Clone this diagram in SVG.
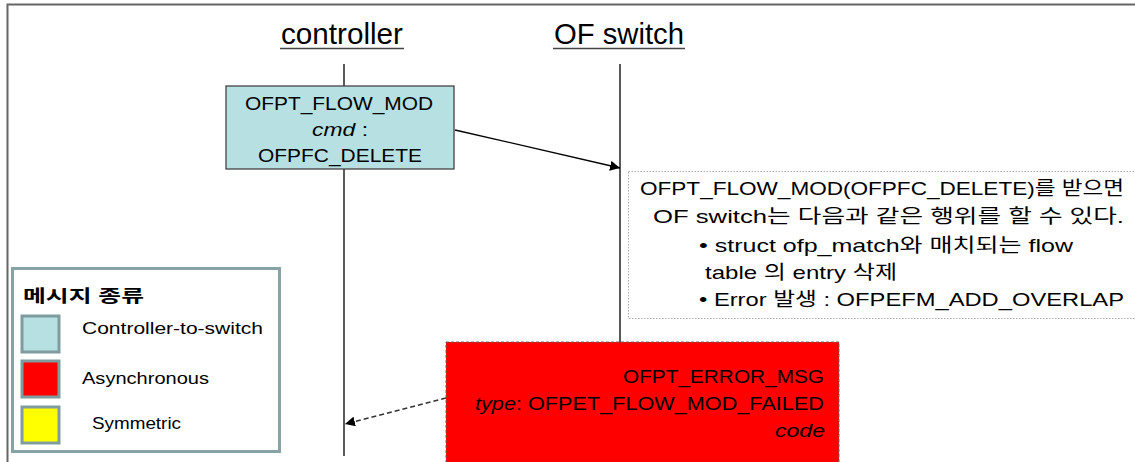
<svg xmlns="http://www.w3.org/2000/svg" width="1135" height="462" viewBox="0 0 1135 462">
  <style>
    .t { font-family: "Liberation Sans", "Noto Sans CJK KR", sans-serif; fill: #000; }
    .head { font-size: 30px; }
    .msg { font-size: 19px; }
    .note { font-size: 19px; }
    .leg { font-size: 17px; }
    .life { stroke: #000; stroke-width: 1.3; fill: none; }
    .sw { stroke: #7f9c9f; stroke-width: 3; }
  </style>
  <defs>
    <marker id="arr" viewBox="0 0 10 10" refX="10" refY="5" markerWidth="10" markerHeight="10" markerUnits="userSpaceOnUse" orient="auto">
      <path d="M0,0 L10,5 L0,10 z" fill="#000"/>
    </marker>
  </defs>

  <rect width="1135" height="462" fill="#fff"/>
  <!-- outer frame -->
  <path d="M7.5,462 V4.5 H1135" stroke="#666" stroke-width="2" fill="none"/>

  <!-- lifeline headers -->
  <g id="controller">
    <text class="t head" x="281" y="44" textLength="122" lengthAdjust="spacingAndGlyphs">controller</text>
    <line x1="280" y1="48.5" x2="404" y2="48.5" stroke="#444" stroke-width="1.5"/>
    <line class="life" x1="344" y1="64" x2="344" y2="456"/>
  </g>
  <g id="of-switch">
    <text class="t head" x="554" y="44" textLength="130" lengthAdjust="spacingAndGlyphs">OF switch</text>
    <line x1="553" y1="48.5" x2="685" y2="48.5" stroke="#444" stroke-width="1.5"/>
    <line class="life" x1="620" y1="64" x2="620" y2="342"/>
  </g>

  <!-- connectors -->
  <g id="connectors">
    <line x1="455" y1="130" x2="620" y2="168" stroke="#000" stroke-width="1.3" marker-end="url(#arr)"/>
    <line x1="446" y1="398" x2="345" y2="424" stroke="#333" stroke-width="1.5" stroke-dasharray="5,3" marker-end="url(#arr)"/>
  </g>

  <!-- flow mod message -->
  <g id="flow-mod">
    <rect x="226" y="86" width="228" height="83" fill="#b7e0e3" stroke="#444" stroke-width="1.3"/>
    <text class="t msg" x="245" y="110" textLength="188" lengthAdjust="spacingAndGlyphs">OFPT_FLOW_MOD</text>
    <text class="t msg" x="312" y="136" textLength="56" lengthAdjust="spacingAndGlyphs"><tspan font-style="italic">cmd</tspan> :</text>
    <text class="t msg" x="258" y="162" textLength="164" lengthAdjust="spacingAndGlyphs">OFPFC_DELETE</text>
  </g>

  <!-- switch behaviour note -->
  <g id="note">
    <rect x="628.5" y="171.5" width="520" height="147" fill="#fff" stroke="#aaa" stroke-width="1" stroke-dasharray="1.5,1.5"/>
    <text class="t note" x="640" y="195" textLength="484" lengthAdjust="spacingAndGlyphs">OFPT_FLOW_MOD(OFPFC_DELETE)를 받으면</text>
    <text class="t note" x="653" y="223" textLength="471" lengthAdjust="spacingAndGlyphs">OF switch는   다음과 같은 행위를 할 수 있다.</text>
    <text class="t note" x="699" y="252" textLength="374" lengthAdjust="spacingAndGlyphs">• struct ofp_match와   매치되는 flow</text>
    <text class="t note" x="705" y="279" textLength="192" lengthAdjust="spacingAndGlyphs">table 의 entry 삭제</text>
    <text class="t note" x="699" y="306" textLength="425" lengthAdjust="spacingAndGlyphs">• Error 발생 : OFPEFM_ADD_OVERLAP</text>
  </g>

  <!-- error message -->
  <g id="error-msg">
    <rect x="446" y="342" width="393" height="130" fill="#ff0000" stroke="#666" stroke-width="1" stroke-dasharray="3,2"/>
    <text class="t msg" x="623" y="383" textLength="201" lengthAdjust="spacingAndGlyphs">OFPT_ERROR_MSG</text>
    <text class="t msg" x="475" y="410" textLength="349" lengthAdjust="spacingAndGlyphs"><tspan font-style="italic">type</tspan>: OFPET_FLOW_MOD_FAILED</text>
    <text class="t msg" x="775" y="437" textLength="50" lengthAdjust="spacingAndGlyphs" font-style="italic">code</text>
  </g>

  <!-- legend -->
  <g id="legend">
    <rect x="12.5" y="268.5" width="267" height="183" fill="#fff" stroke="#88a2a5" stroke-width="3"/>
    <text class="t leg" x="23" y="302" font-weight="bold" font-size="19" textLength="121" lengthAdjust="spacingAndGlyphs">메시지 종류</text>
    <rect class="sw" x="22" y="316" width="37" height="36" fill="#b7e0e3"/>
    <text class="t leg" x="82" y="334" textLength="181" lengthAdjust="spacingAndGlyphs">Controller-to-switch</text>
    <rect class="sw" x="22" y="361" width="37" height="36" fill="#ff0000"/>
    <text class="t leg" x="82" y="384" textLength="127" lengthAdjust="spacingAndGlyphs">Asynchronous</text>
    <rect class="sw" x="22" y="407" width="37" height="36" fill="#ffff00"/>
    <text class="t leg" x="92" y="429" textLength="89" lengthAdjust="spacingAndGlyphs">Symmetric</text>
  </g>
</svg>
